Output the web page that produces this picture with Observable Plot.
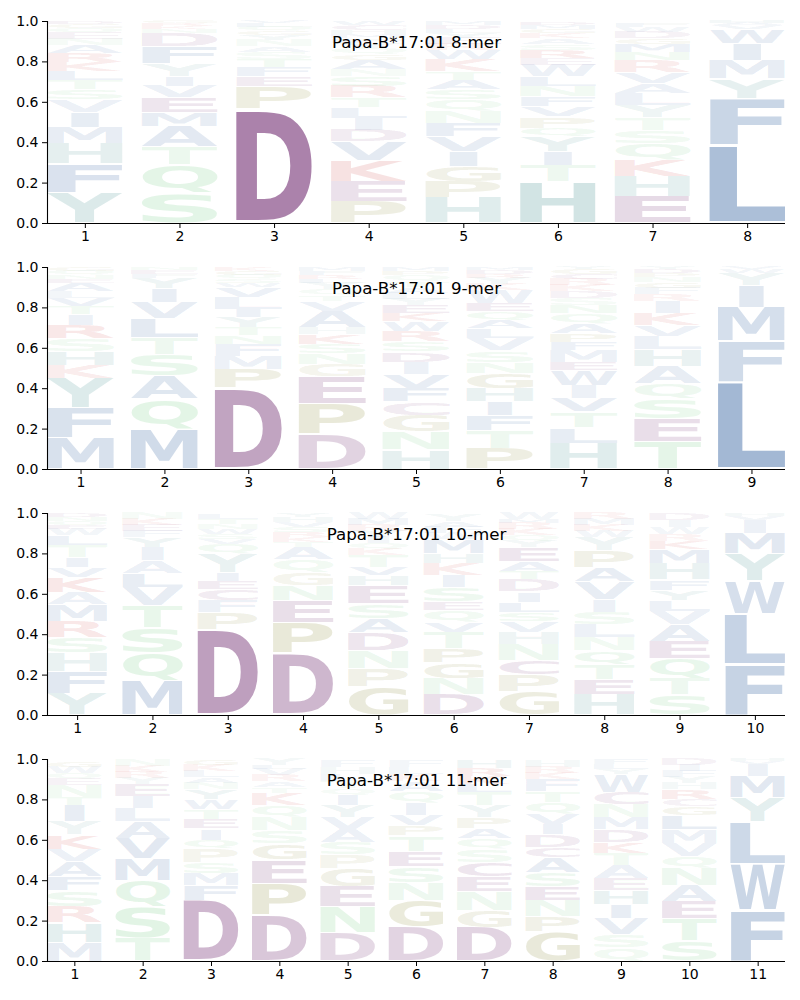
<!DOCTYPE html>
<html><head><meta charset="utf-8">
<script src="https://cdn.jsdelivr.net/npm/d3@7"></script>
<script src="https://cdn.jsdelivr.net/npm/@observablehq/plot@0.6"></script>
<style>body{margin:0;background:#fff;} svg{display:block}</style>
</head><body><div id="chart"></div>
<script>
// ---- data (bottom -> top per position) ----
const titles = ["Papa-B*17:01 8-mer", "Papa-B*17:01 9-mer", "Papa-B*17:01 10-mer", "Papa-B*17:01 11-mer"];
const yTicks = [0, 0.2, 0.4, 0.6, 0.8, 1.0];

const letters8 = ["YFHMIVSTLKRANEQGD", "SQTAMEVIYFDNKRG", "DPEFTSANYGQLV", "PEKVDILTRSNAGQYFMHCW",
  "HPGIVFNQSATKWREYLDM", "HTIYQPVFNLWERSAKGMD", "EHKQSTYLAVRNMGDWF", "LFYMIWVAH"];
const heights8 = [
  [.15,.145,.10,.08,.075,.06,.05,.045,.045,.045,.045,.04,.03,.03,.025,.02,.015],
  [.148,.144,.087,.099,.069,.074,.058,.049,.062,.083,.066,.02,.015,.015,.01],
  [.565,.11,.05,.045,.04,.035,.03,.03,.025,.02,.02,.02,.01],
  [.107,.099,.104,.094,.057,.058,.054,.047,.058,.05,.035,.045,.03,.03,.025,.02,.02,.02,.025,.02],
  [.127,.079,.074,.074,.074,.066,.058,.058,.05,.048,.042,.06,.047,.03,.03,.025,.02,.02,.018],
  [.206,.079,.069,.074,.042,.057,.05,.049,.053,.046,.058,.032,.042,.03,.03,.025,.02,.02,.015],
  [.132,.098,.083,.082,.066,.063,.061,.057,.05,.055,.06,.04,.04,.03,.03,.025,.02],
  [.386,.232,.095,.094,.083,.07,.02,.01,.01]
];

const letters9 = ["MFYKHSRITVLAENQG", "MQASTLVIYFEN", "DPMFNTYILVWSQGK", "DPEGNSKHAVTQYLRFM",
  "HNGCFVIDSRWKEYLATQPM", "PTFIHGNSVLAQEWKYRDM", "HLTVIWEMFPAQNSDKRCGY", "TESQAHLVKIRFGNPDY", "LFMIYWV"];
const heights9 = [
  [.154,.149,.146,.066,.069,.063,.067,.051,.041,.04,.034,.04,.02,.02,.02,.02],
  [.197,.149,.116,.106,.082,.095,.081,.069,.05,.02,.02,.015],
  [.40,.095,.065,.06,.04,.04,.05,.04,.06,.05,.02,.02,.02,.02,.02],
  [.17,.152,.135,.063,.05,.05,.05,.03,.08,.05,.03,.03,.03,.02,.02,.02,.02],
  [.096,.088,.083,.066,.067,.07,.06,.05,.05,.05,.05,.04,.04,.03,.03,.03,.03,.03,.02,.02],
  [.104,.088,.074,.067,.067,.074,.056,.058,.058,.049,.04,.045,.04,.066,.03,.03,.02,.02,.015],
  [.129,.076,.078,.067,.065,.075,.04,.058,.039,.043,.05,.05,.04,.035,.035,.03,.03,.025,.025,.01],
  [.137,.113,.096,.074,.09,.08,.065,.055,.06,.06,.035,.03,.03,.025,.02,.02,.01],
  [.432,.20,.168,.11,.06,.02,.01]
];

const letters10 = ["YFHSRMAKVITLWEQND", "MQSTVLAIYFEKN", "DPFCEIYQVSWNTL", "DPENGQATKRSVHY",
  "GPNDASEHVTKQIYRMW", "DNGPTVQESIKHMWFAY", "GPCNHVSLIDTAEYQKRMW", "HETQNLSIVAPYWKMR", "STQEAVLYFHMKRWID", "FLWYMIVH"];
const heights10 = [
  [.108,.108,.091,.075,.083,.083,.058,.075,.05,.05,.059,.048,.03,.02,.02,.02,.02],
  [.166,.141,.125,.108,.091,.069,.064,.066,.05,.03,.03,.03,.03],
  [.424,.083,.058,.058,.041,.042,.091,.05,.025,.025,.025,.025,.025,.025],
  [.307,.15,.108,.075,.066,.066,.058,.025,.025,.025,.025,.025,.025,.02],
  [.14,.09,.09,.09,.07,.07,.09,.05,.04,.06,.03,.03,.03,.03,.03,.03,.03],
  [.10,.08,.08,.07,.08,.05,.06,.04,.07,.06,.06,.05,.07,.03,.03,.03,.03],
  [.116,.084,.07,.08,.06,.055,.045,.05,.05,.06,.04,.05,.07,.03,.03,.03,.03,.02,.03],
  [.10,.075,.075,.07,.065,.065,.06,.06,.09,.07,.085,.065,.03,.03,.03,.03],
  [.10,.08,.10,.085,.085,.065,.055,.05,.05,.08,.07,.04,.035,.035,.035,.03],
  [.252,.248,.165,.135,.10,.065,.02,.015]
];

const letters11 = ["MHRSFAVKYITNEQWG", "TSQMVALIEYRKN", "DFMSPQIETWYNALKG", "DPEGSNQKTARVLY",
  "DNEGPSAVYIQTLHF", "DGNSETPVIQAKLF", "DGNECSQAPYTLKRH", "GPNESACDIVQTFKRH", "QSVIHEATKDMNCWYLF", "STEANQVMLGCRHYFID", "FWLYMIVH"];
const heights11 = [
  [.093,.097,.08,.08,.07,.075,.06,.07,.065,.08,.04,.06,.03,.03,.03,.03],
  [.113,.157,.13,.105,.10,.085,.065,.06,.06,.03,.03,.03,.03],
  [.302,.073,.06,.055,.065,.045,.055,.045,.05,.05,.05,.03,.03,.03,.03,.03],
  [.228,.157,.115,.08,.065,.065,.06,.06,.03,.03,.03,.03,.02,.03],
  [.14,.13,.10,.09,.065,.06,.065,.06,.06,.05,.035,.035,.035,.035,.035],
  [.166,.134,.09,.08,.075,.075,.05,.05,.06,.06,.05,.035,.035,.035],
  [.166,.084,.095,.075,.07,.065,.05,.05,.055,.06,.065,.04,.04,.04,.04],
  [.146,.074,.08,.07,.07,.075,.05,.06,.05,.05,.06,.055,.06,.03,.03,.03],
  [.066,.064,.08,.07,.07,.06,.065,.06,.055,.06,.06,.065,.06,.09,.025,.025,.025],
  [.10,.11,.085,.08,.085,.06,.065,.065,.07,.045,.035,.05,.03,.03,.03,.03,.03],
  [.25,.23,.21,.12,.105,.06,.015,.01]
];

// residue groups -> colour
const groupOf = {A:"hyd",C:"acid",F:"hyd",I:"hyd",L:"hyd",M:"hyd",V:"hyd",W:"hyd",
  H:"arom",Y:"arom",N:"pol",Q:"pol",S:"pol",T:"pol",D:"acid",E:"acid",G:"gp",P:"gp",K:"bas",R:"bas"};
const groupColor = {hyd:"#4872aa", arom:"#589b9b", pol:"#78cd87", acid:"#7c3d7c", gp:"#95954a", bas:"#d04848"};

const panels = [[letters8, heights8], [letters9, heights9], [letters10, heights10], [letters11, heights11]];

// ink metrics of glyphs
const FONT = "DejaVu Sans";
const ctx = document.createElement("canvas").getContext("2d");
ctx.font = `bold 100px '${FONT}'`;
const metricsCache = {};
function ink(c) {
  if (!metricsCache[c]) {
    const m = ctx.measureText(c);
    metricsCache[c] = {L: m.actualBoundingBoxLeft, R: m.actualBoundingBoxRight, A: m.actualBoundingBoxAscent, D: m.actualBoundingBoxDescent};
  }
  return metricsCache[c];
}
const eInk = ink("E");
const eW = eInk.L + eInk.R;
const VPAD = 0.05, WIDTH = 0.8;

const root = document.getElementById("chart");
panels.forEach(([letters, heights], p) => {
  const n = letters.length;
  const rows = [];
  letters.forEach((s, i) => {
    let y = 0;
    [...s].forEach((c, j) => {
      const h = heights[i][j];
      const op = Math.min(1, 0.05 + h * 1.05);
      const col = d3.rgb(groupColor[groupOf[c]]);
      col.opacity = op;
      rows.push({pos: i + 1, c, y0: y, y1: y + h, fill: col.formatRgb()});
      y += h;
    });
  });
  const xDomain = [0.6, n + 0.4];
  const positions = d3.range(1, n + 1);
  const plot = Plot.plot({
    width: 800, height: 246,
    marginTop: 21, marginBottom: 23, marginLeft: 47, marginRight: 15,
    x: {domain: xDomain},
    y: {domain: [0, 1]},
    color: {type: "identity"},
    style: {fontFamily: FONT, fontSize: "14px", color: "black", background: "white"},
    marks: [
      Plot.text(rows, {x: "pos", y: "y0", text: "c", fill: "fill", fontSize: 100, fontWeight: "bold",
        fontFamily: FONT, textAnchor: "start", lineAnchor: "bottom"}),
      Plot.text([titles[p]], {text: d => d, frameAnchor: "top", dy: 15, fontSize: 16.7, fontFamily: FONT, fill: "black"}),
      Plot.axisX({ticks: positions, tickFormat: d3.format("d"), tickSize: 5, tickPadding: 3, fontSize: 14, label: null}),
      Plot.axisY({ticks: yTicks, tickFormat: d3.format(".1f"), tickSize: 5, tickPadding: 4, fontSize: 14, label: null}),
      Plot.ruleY([0], {stroke: "black", strokeWidth: 1.1}),
      Plot.ruleX([xDomain[0]], {stroke: "black", strokeWidth: 1.1})
    ]
  });
  root.appendChild(plot);
  const xs = plot.scale("x"), ys = plot.scale("y");
  const g = plot.querySelector('g[aria-label="text"]');
  g.removeAttribute("transform");
  const texts = g.querySelectorAll("text");
  texts.forEach((t, k) => {
    const r = rows[k];
    const m = ink(r.c);
    const inkW = m.L + m.R, inkH = m.A + m.D;
    const W = xs.apply(r.pos + WIDTH / 2) - xs.apply(r.pos - WIDTH / 2);
    const sx = Math.min(W / inkW, W / eW);
    const cx = xs.apply(r.pos);
    const X0 = cx - sx * inkW / 2;
    const hgt = r.y1 - r.y0;
    const Ytop = ys.apply(r.y1 - hgt * VPAD / 2);
    const Ybot = ys.apply(r.y0 + hgt * VPAD / 2);
    const sy = (Ybot - Ytop) / inkH;
    t.removeAttribute("y");
    t.removeAttribute("dy");
    t.setAttribute("transform", `translate(${X0 + sx * m.L},${Ytop + sy * m.A}) scale(${sx},${sy})`);
  });
});
</script>
</body></html>
